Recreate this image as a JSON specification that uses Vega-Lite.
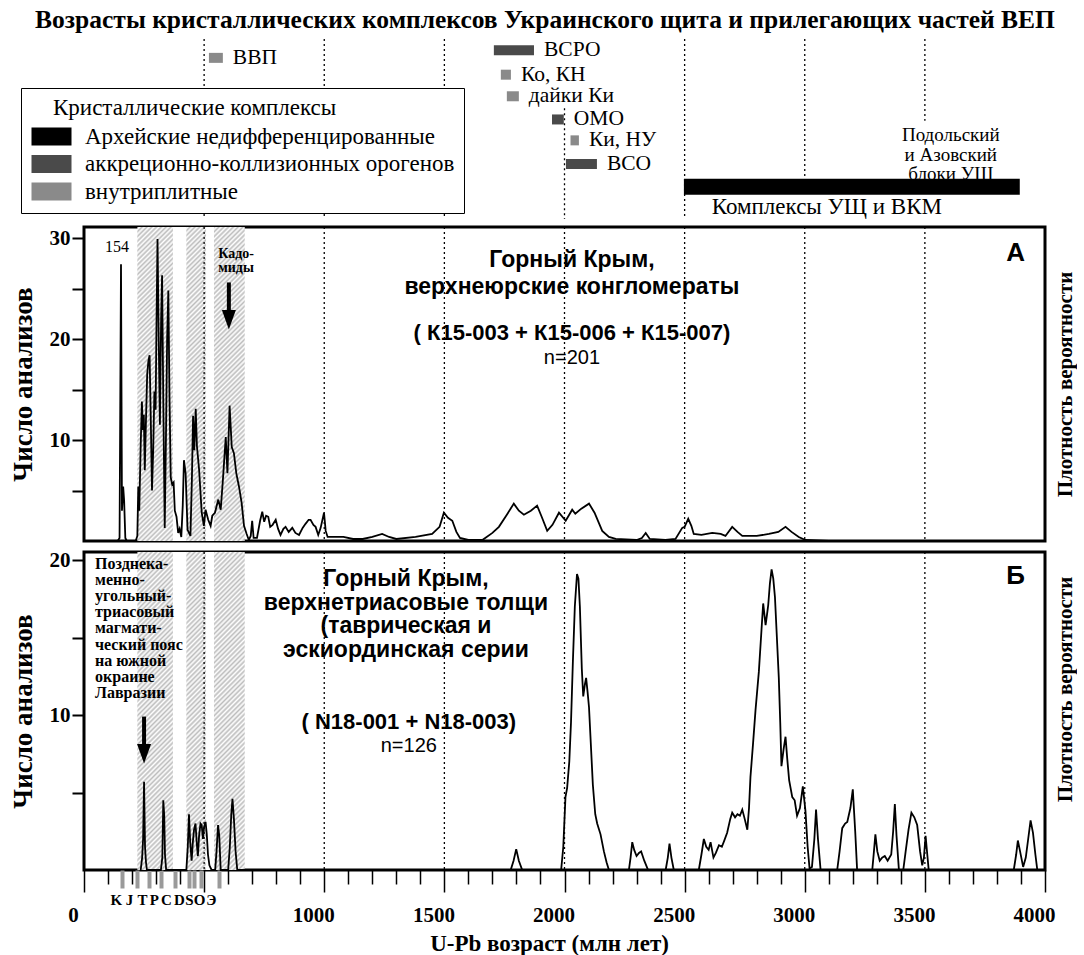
{
  "$schema": "https://vega.github.io/schema/vega-lite/v6.json",
  "background": "white",
  "padding": {"left": 7, "top": 7, "right": 0, "bottom": 0},
  "title": {
    "text": "Возрасты кристаллических комплексов Украинского щита и прилегающих частей ВЕП",
    "font": "Liberation Serif", "fontSize": 25.5, "fontWeight": "bold", "color": "black",
    "anchor": "middle", "offset": 1, "dx": 3
  },
  "config": {
    "view": {"stroke": "black", "strokeWidth": 3},
    "axis": {"grid": false, "domain": false, "labelColor": "black", "tickColor": "black", "titleColor": "black"}
  },
  "params": [
    {
      "name": "hatch",
      "value": {
        "gradient": "linear", "x1": 0, "y1": 0, "x2": 0.4602, "y2": 1.3583,
        "stops": [
          {"offset":0,"color":"#bdbdbd"},{"offset":0.005,"color":"#fff"},{"offset":0.01,"color":"#bdbdbd"},{"offset":0.015,"color":"#fff"},
          {"offset":0.02,"color":"#bdbdbd"},{"offset":0.025,"color":"#fff"},{"offset":0.03,"color":"#bdbdbd"},{"offset":0.035,"color":"#fff"},
          {"offset":0.04,"color":"#bdbdbd"},{"offset":0.045,"color":"#fff"},{"offset":0.05,"color":"#bdbdbd"},{"offset":0.055,"color":"#fff"},
          {"offset":0.06,"color":"#bdbdbd"},{"offset":0.065,"color":"#fff"},{"offset":0.07,"color":"#bdbdbd"},{"offset":0.075,"color":"#fff"},
          {"offset":0.08,"color":"#bdbdbd"},{"offset":0.085,"color":"#fff"},{"offset":0.09,"color":"#bdbdbd"},{"offset":0.095,"color":"#fff"},
          {"offset":0.1,"color":"#bdbdbd"},{"offset":0.105,"color":"#fff"},{"offset":0.11,"color":"#bdbdbd"},{"offset":0.115,"color":"#fff"},
          {"offset":0.12,"color":"#bdbdbd"},{"offset":0.125,"color":"#fff"},{"offset":0.13,"color":"#bdbdbd"},{"offset":0.135,"color":"#fff"},
          {"offset":0.14,"color":"#bdbdbd"},{"offset":0.145,"color":"#fff"},{"offset":0.15,"color":"#bdbdbd"},{"offset":0.155,"color":"#fff"},
          {"offset":0.16,"color":"#bdbdbd"},{"offset":0.165,"color":"#fff"},{"offset":0.17,"color":"#bdbdbd"},{"offset":0.175,"color":"#fff"},
          {"offset":0.18,"color":"#bdbdbd"},{"offset":0.185,"color":"#fff"},{"offset":0.19,"color":"#bdbdbd"},{"offset":0.195,"color":"#fff"},
          {"offset":0.2,"color":"#bdbdbd"},{"offset":0.205,"color":"#fff"},{"offset":0.21,"color":"#bdbdbd"},{"offset":0.215,"color":"#fff"},
          {"offset":0.22,"color":"#bdbdbd"},{"offset":0.225,"color":"#fff"},{"offset":0.23,"color":"#bdbdbd"},{"offset":0.235,"color":"#fff"},
          {"offset":0.24,"color":"#bdbdbd"},{"offset":0.245,"color":"#fff"},{"offset":0.25,"color":"#bdbdbd"},{"offset":0.255,"color":"#fff"},
          {"offset":0.26,"color":"#bdbdbd"},{"offset":0.265,"color":"#fff"},{"offset":0.27,"color":"#bdbdbd"},{"offset":0.275,"color":"#fff"},
          {"offset":0.28,"color":"#bdbdbd"},{"offset":0.285,"color":"#fff"},{"offset":0.29,"color":"#bdbdbd"},{"offset":0.295,"color":"#fff"},
          {"offset":0.3,"color":"#bdbdbd"},{"offset":0.305,"color":"#fff"},{"offset":0.31,"color":"#bdbdbd"},{"offset":0.315,"color":"#fff"},
          {"offset":0.32,"color":"#bdbdbd"},{"offset":0.325,"color":"#fff"},{"offset":0.33,"color":"#bdbdbd"},{"offset":0.335,"color":"#fff"},
          {"offset":0.34,"color":"#bdbdbd"},{"offset":0.345,"color":"#fff"},{"offset":0.35,"color":"#bdbdbd"},{"offset":0.355,"color":"#fff"},
          {"offset":0.36,"color":"#bdbdbd"},{"offset":0.365,"color":"#fff"},{"offset":0.37,"color":"#bdbdbd"},{"offset":0.375,"color":"#fff"},
          {"offset":0.38,"color":"#bdbdbd"},{"offset":0.385,"color":"#fff"},{"offset":0.39,"color":"#bdbdbd"},{"offset":0.395,"color":"#fff"},
          {"offset":0.4,"color":"#bdbdbd"},{"offset":0.405,"color":"#fff"},{"offset":0.41,"color":"#bdbdbd"},{"offset":0.415,"color":"#fff"},
          {"offset":0.42,"color":"#bdbdbd"},{"offset":0.425,"color":"#fff"},{"offset":0.43,"color":"#bdbdbd"},{"offset":0.435,"color":"#fff"},
          {"offset":0.44,"color":"#bdbdbd"},{"offset":0.445,"color":"#fff"},{"offset":0.45,"color":"#bdbdbd"},{"offset":0.455,"color":"#fff"},
          {"offset":0.46,"color":"#bdbdbd"},{"offset":0.465,"color":"#fff"},{"offset":0.47,"color":"#bdbdbd"},{"offset":0.475,"color":"#fff"},
          {"offset":0.48,"color":"#bdbdbd"},{"offset":0.485,"color":"#fff"},{"offset":0.49,"color":"#bdbdbd"},{"offset":0.495,"color":"#fff"},
          {"offset":0.5,"color":"#bdbdbd"},{"offset":0.505,"color":"#fff"},{"offset":0.51,"color":"#bdbdbd"},{"offset":0.515,"color":"#fff"},
          {"offset":0.52,"color":"#bdbdbd"},{"offset":0.525,"color":"#fff"},{"offset":0.53,"color":"#bdbdbd"},{"offset":0.535,"color":"#fff"},
          {"offset":0.54,"color":"#bdbdbd"},{"offset":0.545,"color":"#fff"},{"offset":0.55,"color":"#bdbdbd"},{"offset":0.555,"color":"#fff"},
          {"offset":0.56,"color":"#bdbdbd"},{"offset":0.565,"color":"#fff"},{"offset":0.57,"color":"#bdbdbd"},{"offset":0.575,"color":"#fff"},
          {"offset":0.58,"color":"#bdbdbd"},{"offset":0.585,"color":"#fff"},{"offset":0.59,"color":"#bdbdbd"},{"offset":0.595,"color":"#fff"},
          {"offset":0.6,"color":"#bdbdbd"},{"offset":0.605,"color":"#fff"},{"offset":0.61,"color":"#bdbdbd"},{"offset":0.615,"color":"#fff"},
          {"offset":0.62,"color":"#bdbdbd"},{"offset":0.625,"color":"#fff"},{"offset":0.63,"color":"#bdbdbd"},{"offset":0.635,"color":"#fff"},
          {"offset":0.64,"color":"#bdbdbd"},{"offset":0.645,"color":"#fff"},{"offset":0.65,"color":"#bdbdbd"},{"offset":0.655,"color":"#fff"},
          {"offset":0.66,"color":"#bdbdbd"},{"offset":0.665,"color":"#fff"},{"offset":0.67,"color":"#bdbdbd"},{"offset":0.675,"color":"#fff"},
          {"offset":0.68,"color":"#bdbdbd"},{"offset":0.685,"color":"#fff"},{"offset":0.69,"color":"#bdbdbd"},{"offset":0.695,"color":"#fff"},
          {"offset":0.7,"color":"#bdbdbd"},{"offset":0.705,"color":"#fff"},{"offset":0.71,"color":"#bdbdbd"},{"offset":0.715,"color":"#fff"},
          {"offset":0.72,"color":"#bdbdbd"},{"offset":0.725,"color":"#fff"},{"offset":0.73,"color":"#bdbdbd"},{"offset":0.735,"color":"#fff"},
          {"offset":0.74,"color":"#bdbdbd"},{"offset":0.745,"color":"#fff"},{"offset":0.75,"color":"#bdbdbd"},{"offset":0.755,"color":"#fff"},
          {"offset":0.76,"color":"#bdbdbd"},{"offset":0.765,"color":"#fff"},{"offset":0.77,"color":"#bdbdbd"},{"offset":0.775,"color":"#fff"},
          {"offset":0.78,"color":"#bdbdbd"},{"offset":0.785,"color":"#fff"},{"offset":0.79,"color":"#bdbdbd"},{"offset":0.795,"color":"#fff"},
          {"offset":0.8,"color":"#bdbdbd"},{"offset":0.805,"color":"#fff"},{"offset":0.81,"color":"#bdbdbd"},{"offset":0.815,"color":"#fff"},
          {"offset":0.82,"color":"#bdbdbd"},{"offset":0.825,"color":"#fff"},{"offset":0.83,"color":"#bdbdbd"},{"offset":0.835,"color":"#fff"},
          {"offset":0.84,"color":"#bdbdbd"},{"offset":0.845,"color":"#fff"},{"offset":0.85,"color":"#bdbdbd"},{"offset":0.855,"color":"#fff"},
          {"offset":0.86,"color":"#bdbdbd"},{"offset":0.865,"color":"#fff"},{"offset":0.87,"color":"#bdbdbd"},{"offset":0.875,"color":"#fff"},
          {"offset":0.88,"color":"#bdbdbd"},{"offset":0.885,"color":"#fff"},{"offset":0.89,"color":"#bdbdbd"},{"offset":0.895,"color":"#fff"},
          {"offset":0.9,"color":"#bdbdbd"}
        ]
      }
    }
  ],
  "datasets": {
    "hatchZone": [{"s": 222, "e": 669}],
    "hatchGaps": [{"s": 370, "e": 426}, {"s": 508, "e": 541}],
    "gridPanel": [{"g": 500}, {"g": 1000}, {"g": 1500}, {"g": 2000}, {"g": 2500}, {"g": 3000}, {"g": 3500}],
    "gridTop": [
      {"g": 500, "from": 0.5, "to": 8.42}, {"g": 1000, "from": 0.5, "to": 8.42}, {"g": 1500, "from": 0.5, "to": 8.42},
      {"g": 2000, "from": 3.55, "to": 8.42}, {"g": 2500, "from": 0.5, "to": 8.42}, {"g": 3000, "from": 0.5, "to": 6.67},
      {"g": 3500, "from": 0.5, "to": 4.1}
    ],
    "complexes": [
      {"name": "ВВП", "s": 520, "e": 578, "row": 1.33, "kind": "внутриплитные"},
      {"name": "ВСРО", "s": 1706, "e": 1873, "row": 1.0, "kind": "аккреционно-коллизионных орогенов"},
      {"name": "Ко, КН", "s": 1735, "e": 1777, "row": 2.07, "kind": "внутриплитные"},
      {"name": "дайки Ки", "s": 1760, "e": 1810, "row": 3.02, "kind": "внутриплитные"},
      {"name": "ОМО", "s": 1948, "e": 1997, "row": 4.04, "kind": "аккреционно-коллизионных орогенов"},
      {"name": "Ки, НУ", "s": 2025, "e": 2060, "row": 4.96, "kind": "внутриплитные"},
      {"name": "ВСО", "s": 2006, "e": 2135, "row": 6.0, "kind": "аккреционно-коллизионных орогенов"}
    ],
    "archean": [
      {"name": "Комплексы УЩ и ВКМ", "s": 2497, "e": 3895, "row": 7.0, "kind": "Архейские недифференцированные"}
    ],
    "curveA": [
      {"a":140,"v":0},{"a":148,"v":0.3},{"a":154,"v":27.4},{"a":158,"v":3.0},{"a":163,"v":5.4},{"a":167,"v":4.0},{"a":172,"v":0.3},{"a":178,"v":0},
      {"a":215,"v":0},{"a":222,"v":0.5},{"a":226,"v":5.4},{"a":230,"v":3.0},{"a":236,"v":9.5},{"a":241,"v":13.8},{"a":245,"v":11.0},{"a":249,"v":12.5},
      {"a":253,"v":7.0},{"a":258,"v":12.0},{"a":263,"v":16.5},{"a":268,"v":17.8},{"a":273,"v":18.4},{"a":278,"v":12.0},{"a":283,"v":5.0},{"a":288,"v":9.0},
      {"a":293,"v":14.8},{"a":298,"v":13.0},{"a":302,"v":22.0},{"a":306,"v":29.9},{"a":311,"v":20.0},{"a":316,"v":11.5},{"a":321,"v":22.0},{"a":325,"v":26.3},
      {"a":330,"v":14.0},{"a":336,"v":1.3},{"a":341,"v":10.0},{"a":346,"v":20.0},{"a":351,"v":24.8},{"a":356,"v":14.0},{"a":361,"v":6.3},{"a":367,"v":5.6},
      {"a":373,"v":5.8},{"a":378,"v":3.0},{"a":385,"v":2.4},{"a":392,"v":0.8},{"a":398,"v":1.2},{"a":405,"v":0.4},{"a":411,"v":3.5},{"a":416,"v":8.0},
      {"a":423,"v":6.7},{"a":431,"v":1.1},{"a":443,"v":0.5},{"a":449,"v":6.0},{"a":454,"v":12.4},{"a":459,"v":9.0},{"a":465,"v":13.1},{"a":470,"v":9.4},
      {"a":479,"v":7.1},{"a":490,"v":2.8},{"a":499,"v":1.5},{"a":506,"v":3.1},{"a":517,"v":2.1},{"a":527,"v":1.5},{"a":534,"v":2.5},{"a":545,"v":2.8},
      {"a":559,"v":4.1},{"a":569,"v":3.1},{"a":578,"v":6.0},{"a":590,"v":10.3},{"a":597,"v":6.7},{"a":606,"v":13.4},{"a":615,"v":9.3},{"a":624,"v":8.7},
      {"a":634,"v":6.7},{"a":645,"v":5.4},{"a":656,"v":3.8},{"a":666,"v":1.5},{"a":677,"v":0.7},{"a":686,"v":0.1},{"a":694,"v":0.5},{"a":700,"v":2.0},
      {"a":706,"v":0.3},{"a":720,"v":0.3},{"a":733,"v":2.0},{"a":742,"v":2.9},{"a":750,"v":1.9},{"a":758,"v":2.5},{"a":767,"v":2.4},{"a":775,"v":1.4},
      {"a":785,"v":1.6},{"a":798,"v":2.1},{"a":808,"v":1.2},{"a":818,"v":0.6},{"a":830,"v":1.2},{"a":839,"v":1.4},{"a":852,"v":0.9},{"a":867,"v":1.3},
      {"a":880,"v":0.8},{"a":895,"v":0.6},{"a":910,"v":1.3},{"a":922,"v":1.7},{"a":935,"v":2.1},{"a":943,"v":2.1},{"a":955,"v":1.6},{"a":964,"v":1.4},
      {"a":975,"v":0.6},{"a":985,"v":1.3},{"a":999,"v":2.8},{"a":1006,"v":1.0},{"a":1014,"v":0.4},{"a":1040,"v":0.4},{"a":1080,"v":0.4},{"a":1120,"v":0.2},
      {"a":1160,"v":0.2},{"a":1200,"v":0.4},{"a":1241,"v":0.7},{"a":1270,"v":0.4},{"a":1300,"v":0.2},{"a":1380,"v":0.4},{"a":1449,"v":0.7},{"a":1480,"v":1.4},
      {"a":1498,"v":2.8},{"a":1515,"v":2.3},{"a":1533,"v":2.0},{"a":1550,"v":0.9},{"a":1565,"v":0.3},{"a":1600,"v":0.1},{"a":1658,"v":0.1},{"a":1700,"v":0.8},
      {"a":1727,"v":1.4},{"a":1760,"v":2.6},{"a":1789,"v":3.7},{"a":1810,"v":3.0},{"a":1831,"v":2.6},{"a":1860,"v":3.0},{"a":1886,"v":3.5},{"a":1905,"v":2.4},
      {"a":1928,"v":1.0},{"a":1950,"v":1.6},{"a":1977,"v":2.8},{"a":2005,"v":2.0},{"a":2032,"v":3.1},{"a":2045,"v":2.7},{"a":2070,"v":3.2},{"a":2102,"v":3.7},
      {"a":2125,"v":2.8},{"a":2157,"v":1.0},{"a":2185,"v":0.4},{"a":2213,"v":0.2},{"a":2300,"v":0.1},{"a":2322,"v":0.3},{"a":2338,"v":0.8},{"a":2355,"v":0.2},
      {"a":2420,"v":0.1},{"a":2462,"v":0.2},{"a":2490,"v":1.3},{"a":2500,"v":1.4},{"a":2515,"v":2.2},{"a":2528,"v":1.5},{"a":2538,"v":0.7},{"a":2570,"v":0.6},
      {"a":2615,"v":0.8},{"a":2650,"v":0.7},{"a":2670,"v":0.5},{"a":2698,"v":1.4},{"a":2720,"v":0.9},{"a":2740,"v":0.5},{"a":2800,"v":0.5},{"a":2851,"v":0.7},
      {"a":2890,"v":0.9},{"a":2920,"v":1.4},{"a":2945,"v":0.9},{"a":2975,"v":0.4},{"a":3003,"v":0.1},{"a":3100,"v":0}
    ],
    "curveB": [
      {"a":236,"v":0},{"a":242,"v":0.8},{"a":246,"v":2.0},{"a":250,"v":5.7},{"a":254,"v":1.5},{"a":258,"v":0.5},{"a":262,"v":0},
      {"a":320,"v":0},{"a":326,"v":0.8},{"a":330,"v":4.5},{"a":334,"v":3.5},{"a":337,"v":1.0},{"a":342,"v":0},
      {"a":426,"v":0},{"a":432,"v":1.5},{"a":437,"v":3.6},{"a":442,"v":1.8},{"a":448,"v":0.6},{"a":453,"v":1.8},{"a":458,"v":2.6},{"a":464,"v":3.0},
      {"a":470,"v":1.6},{"a":474,"v":0.9},{"a":479,"v":2.2},{"a":485,"v":3.0},{"a":490,"v":2.9},{"a":495,"v":2.0},{"a":500,"v":2.8},{"a":506,"v":3.1},
      {"a":511,"v":2.3},{"a":516,"v":1.0},{"a":522,"v":0.3},{"a":531,"v":0},
      {"a":546,"v":0},{"a":552,"v":1.3},{"a":558,"v":2.9},{"a":563,"v":2.2},{"a":569,"v":0},
      {"a":600,"v":0},{"a":607,"v":1.5},{"a":613,"v":3.6},{"a":618,"v":4.6},{"a":624,"v":3.3},{"a":631,"v":1.2},{"a":638,"v":0},
      {"a":1776,"v":0},{"a":1788,"v":0.6},{"a":1799,"v":1.35},{"a":1810,"v":0.6},{"a":1824,"v":0},
      {"a":1986,"v":0},{"a":1995,"v":1.5},{"a":2004,"v":4.7},{"a":2011,"v":5.3},{"a":2020,"v":7.0},{"a":2027,"v":9.5},{"a":2035,"v":13.5},{"a":2043,"v":17.0},
      {"a":2052,"v":19.1},{"a":2058,"v":18.8},{"a":2064,"v":17.0},{"a":2072,"v":13.0},{"a":2078,"v":11.2},{"a":2085,"v":12.0},{"a":2090,"v":12.4},{"a":2096,"v":11.5},
      {"a":2102,"v":10.5},{"a":2110,"v":8.0},{"a":2118,"v":5.5},{"a":2128,"v":3.6},{"a":2136,"v":3.0},{"a":2150,"v":2.3},{"a":2164,"v":1.2},{"a":2175,"v":0.5},{"a":2185,"v":0},
      {"a":2268,"v":0},{"a":2275,"v":0.8},{"a":2282,"v":1.8},{"a":2290,"v":1.3},{"a":2300,"v":0.9},{"a":2310,"v":1.1},{"a":2319,"v":1.2},{"a":2332,"v":0.6},{"a":2348,"v":0},
      {"a":2421,"v":0},{"a":2430,"v":0.8},{"a":2437,"v":1.7},{"a":2445,"v":0.8},{"a":2455,"v":0},
      {"a":2559,"v":0},{"a":2570,"v":1.0},{"a":2580,"v":2.0},{"a":2590,"v":1.5},{"a":2600,"v":1.3},{"a":2608,"v":1.8},{"a":2620,"v":0.8},{"a":2630,"v":1.1},
      {"a":2643,"v":1.6},{"a":2655,"v":1.5},{"a":2665,"v":1.9},{"a":2677,"v":2.4},{"a":2690,"v":3.3},{"a":2698,"v":3.7},{"a":2710,"v":3.4},{"a":2720,"v":3.6},
      {"a":2730,"v":3.5},{"a":2740,"v":3.9},{"a":2750,"v":3.3},{"a":2761,"v":2.6},{"a":2768,"v":4.0},{"a":2774,"v":6.0},{"a":2785,"v":8.2},{"a":2795,"v":10.3},
      {"a":2809,"v":12.8},{"a":2820,"v":15.5},{"a":2827,"v":17.2},{"a":2837,"v":15.8},{"a":2843,"v":16.5},{"a":2848,"v":17.1},{"a":2855,"v":18.5},{"a":2862,"v":19.4},
      {"a":2869,"v":18.8},{"a":2876,"v":17.6},{"a":2884,"v":15.0},{"a":2892,"v":12.4},{"a":2898,"v":9.5},{"a":2903,"v":6.7},{"a":2912,"v":7.8},{"a":2920,"v":8.6},
      {"a":2927,"v":7.2},{"a":2935,"v":5.8},{"a":2948,"v":4.7},{"a":2958,"v":4.5},{"a":2968,"v":3.5},{"a":2980,"v":4.0},{"a":2992,"v":5.4},{"a":3003,"v":3.8},
      {"a":3012,"v":1.5},{"a":3020,"v":0.1},{"a":3030,"v":0.2},{"a":3040,"v":2.0},{"a":3047,"v":3.9},{"a":3055,"v":2.0},{"a":3066,"v":0},
      {"a":3135,"v":0},{"a":3145,"v":1.2},{"a":3156,"v":2.7},{"a":3168,"v":3.0},{"a":3177,"v":3.1},{"a":3190,"v":4.0},{"a":3200,"v":5.2},{"a":3210,"v":2.5},{"a":3218,"v":0},
      {"a":3281,"v":0},{"a":3288,"v":1.2},{"a":3294,"v":2.3},{"a":3302,"v":1.2},{"a":3312,"v":0.6},{"a":3322,"v":0.8},{"a":3333,"v":0.9},{"a":3345,"v":0.6},
      {"a":3360,"v":1.0},{"a":3368,"v":2.5},{"a":3375,"v":4.25},{"a":3382,"v":2.2},{"a":3392,"v":0},
      {"a":3410,"v":0},{"a":3420,"v":1.2},{"a":3432,"v":2.6},{"a":3444,"v":3.7},{"a":3456,"v":3.4},{"a":3468,"v":2.9},{"a":3480,"v":1.2},{"a":3489,"v":0.3},
      {"a":3496,"v":0.8},{"a":3503,"v":2.2},{"a":3510,"v":1.0},{"a":3516,"v":0},
      {"a":3870,"v":0},{"a":3880,"v":1.0},{"a":3887,"v":1.9},{"a":3895,"v":1.3},{"a":3909,"v":0.2},{"a":3920,"v":0.8},{"a":3930,"v":2.0},{"a":3940,"v":3.2},
      {"a":3950,"v":2.4},{"a":3960,"v":1.0},{"a":3968,"v":0},{"a":4000,"v":0}
    ]
  },
  "spacing": 0,
  "resolve": {"legend": {"fill": "independent"}, "scale": {"fill": "independent"}},
  "vconcat": [
    {
      "width": 961,
      "height": 190,
      "view": {"stroke": null},
      "layer": [
        {
          "data": {"name": "gridTop"},
          "mark": {"type": "rule", "strokeDash": [2, 3], "strokeWidth": 1.3, "color": "black"},
          "encoding": {
            "x": {"field": "g", "type": "quantitative", "scale": {"domain": [0, 4000], "nice": false, "zero": false}, "axis": null},
            "y": {"field": "from", "type": "quantitative", "scale": {"domain": [0.5, 8.42], "reverse": true, "nice": false, "zero": false}, "axis": null},
            "y2": {"field": "to"}
          }
        },
        {
          "data": {"name": "complexes"},
          "mark": {"type": "bar", "stroke": null},
          "encoding": {
            "x": {"field": "s", "type": "quantitative", "scale": {"domain": [0, 4000], "nice": false, "zero": false}, "axis": null},
            "x2": {"field": "e"},
            "y": {"field": "row", "type": "quantitative", "scale": {"domain": [0.5, 8.42], "reverse": true, "nice": false, "zero": false}, "axis": null},
            "size": {"value": 10},
            "fill": {
              "field": "kind", "type": "nominal",
              "scale": {"domain": ["Архейские недифференцированные", "аккреционно-коллизионных орогенов", "внутриплитные"], "range": ["#000000", "#4a4a4a", "#8a8a8a"]},
              "legend": {
                "orient": "none", "legendX": -63, "legendY": 54,
                "title": "\u200b\u00a0\u00a0\u00a0\u00a0Кристаллические комплексы",
                "titleFont": "Liberation Serif", "titleFontSize": 23, "titleFontWeight": "normal", "titleColor": "black", "titlePadding": 5, "titleLimit": 700,
                "labelFont": "Liberation Serif", "labelFontSize": 23, "labelColor": "black", "labelLimit": 700, "labelOffset": 32,
                "symbolType": "M-1,-0.9H3V0.9H-1Z", "symbolSize": 400, "symbolStrokeWidth": 0, "symbolOpacity": 1,
                "rowPadding": 3.5, "padding": 9, "strokeColor": "black", "fillColor": "white"
              }
            }
          }
        },
        {
          "data": {"name": "archean"},
          "mark": {"type": "bar", "stroke": null},
          "encoding": {
            "x": {"field": "s", "type": "quantitative", "scale": {"domain": [0, 4000], "nice": false, "zero": false}, "axis": null},
            "x2": {"field": "e"},
            "y": {"field": "row", "type": "quantitative", "scale": {"domain": [0.5, 8.42], "reverse": true, "nice": false, "zero": false}, "axis": null},
            "size": {"value": 16},
            "fill": {"field": "kind", "type": "nominal"}
          }
        },
        {
          "data": {"name": "complexes"},
          "mark": {"type": "text", "align": "left", "baseline": "middle", "dx": 10, "font": "Liberation Serif", "fontSize": 21.5, "color": "black"},
          "encoding": {
            "x": {"field": "e", "type": "quantitative", "scale": {"domain": [0, 4000], "nice": false, "zero": false}, "axis": null},
            "y": {"field": "row", "type": "quantitative", "scale": {"domain": [0.5, 8.42], "reverse": true, "nice": false, "zero": false}, "axis": null},
            "text": {"field": "name"}
          }
        },
        {
          "data": {"name": "archean"},
          "mark": {"type": "text", "align": "center", "baseline": "middle", "font": "Liberation Serif", "fontSize": 23, "color": "black"},
          "encoding": {
            "x": {"datum": 3092, "type": "quantitative", "scale": {"domain": [0, 4000], "nice": false, "zero": false}, "axis": null},
            "y": {"datum": 7.87, "type": "quantitative", "scale": {"domain": [0.5, 8.42], "reverse": true, "nice": false, "zero": false}, "axis": null},
            "text": {"field": "name"}
          }
        },
        {
          "data": {"values": [{}]},
          "mark": {"type": "text", "align": "center", "baseline": "alphabetic", "lineHeight": 19.5, "font": "Liberation Serif", "fontSize": 19, "color": "black"},
          "encoding": {
            "x": {"datum": 3608, "type": "quantitative", "scale": {"domain": [0, 4000], "nice": false, "zero": false}, "axis": null},
            "y": {"datum": 5.0, "type": "quantitative", "scale": {"domain": [0.5, 8.42], "reverse": true, "nice": false, "zero": false}, "axis": null},
            "text": {"value": ["Подольский", "и Азовский", "блоки УЩ"]}
          }
        }
      ]
    },
    {
      "width": 961,
      "height": 314,
      "resolve": {"axis": {"x": "independent", "y": "independent"}},
      "layer": [
        {
          "data": {"name": "hatchZone"},
          "mark": {"type": "rect", "fill": {"expr": "hatch"}, "stroke": null},
          "encoding": {
            "x": {"field": "s", "type": "quantitative", "scale": {"domain": [0, 4000], "nice": false, "zero": false}, "axis": null},
            "x2": {"field": "e"},
            "y": {"datum": 0, "type": "quantitative", "scale": {"domain": [0, 31.09], "nice": false, "zero": false}, "axis": null},
            "y2": {"datum": 31.09}
          }
        },
        {
          "data": {"name": "hatchGaps"},
          "mark": {"type": "rect", "fill": "white", "stroke": null},
          "encoding": {
            "x": {"field": "s", "type": "quantitative", "scale": {"domain": [0, 4000], "nice": false, "zero": false}, "axis": null},
            "x2": {"field": "e"},
            "y": {"datum": 0, "type": "quantitative", "scale": {"domain": [0, 31.09], "nice": false, "zero": false}, "axis": null},
            "y2": {"datum": 31.09}
          }
        },
        {
          "data": {"name": "gridPanel"},
          "mark": {"type": "rule", "strokeDash": [2, 3], "strokeWidth": 1.3, "color": "black"},
          "encoding": {
            "x": {"field": "g", "type": "quantitative", "scale": {"domain": [0, 4000], "nice": false, "zero": false}, "axis": null}
          }
        },
        {
          "data": {"name": "curveA"},
          "mark": {"type": "line", "color": "black", "strokeWidth": 1.8},
          "encoding": {
            "x": {"field": "a", "type": "quantitative", "scale": {"domain": [0, 4000], "nice": false, "zero": false}, "axis": null},
            "y": {
              "field": "v", "type": "quantitative", "scale": {"domain": [0, 31.09], "nice": false, "zero": false},
              "axis": {
                "orient": "left", "values": [5, 10, 15, 20, 25, 30], "tickSize": 12, "tickWidth": 2, "domain": false,
                "labelExpr": "datum.value % 10 == 0 ? datum.label : ''",
                "labelFont": "Liberation Serif", "labelFontSize": 21, "labelFontWeight": "bold", "labelPadding": 2,
                "title": "Число анализов", "titleFont": "Liberation Serif", "titleFontSize": 27, "titleFontWeight": "bold", "titlePadding": 12
              }
            }
          }
        },
        {
          "data": {"values": [{}]},
          "mark": {"type": "text", "align": "center", "baseline": "alphabetic", "lineHeight": 27, "font": "Liberation Sans", "fontSize": 23, "fontWeight": "bold", "color": "black"},
          "encoding": {
            "x": {"datum": 2031, "type": "quantitative", "scale": {"domain": [0, 4000], "nice": false, "zero": false}, "axis": null},
            "y": {"datum": 27.1, "type": "quantitative", "scale": {"domain": [0, 31.09], "nice": false, "zero": false}, "axis": null},
            "text": {"value": ["Горный Крым,", "верхнеюрские конгломераты"]}
          }
        },
        {
          "data": {"values": [{}]},
          "mark": {"type": "text", "align": "center", "baseline": "alphabetic", "font": "Liberation Sans", "fontSize": 22, "fontWeight": "bold", "color": "black"},
          "encoding": {
            "x": {"datum": 2031, "type": "quantitative", "scale": {"domain": [0, 4000], "nice": false, "zero": false}, "axis": null},
            "y": {"datum": 19.9, "type": "quantitative", "scale": {"domain": [0, 31.09], "nice": false, "zero": false}, "axis": null},
            "text": {"value": "( К15-003 + К15-006 + К15-007)"}
          }
        },
        {
          "data": {"values": [{}]},
          "mark": {"type": "text", "align": "center", "baseline": "alphabetic", "font": "Liberation Sans", "fontSize": 20, "color": "black"},
          "encoding": {
            "x": {"datum": 2031, "type": "quantitative", "scale": {"domain": [0, 4000], "nice": false, "zero": false}, "axis": null},
            "y": {"datum": 17.55, "type": "quantitative", "scale": {"domain": [0, 31.09], "nice": false, "zero": false}, "axis": null},
            "text": {"value": "n=201"}
          }
        },
        {
          "data": {"values": [{}]},
          "mark": {"type": "text", "align": "center", "baseline": "alphabetic", "font": "Liberation Sans", "fontSize": 26, "fontWeight": "bold", "color": "black"},
          "encoding": {
            "x": {"datum": 3878, "type": "quantitative", "scale": {"domain": [0, 4000], "nice": false, "zero": false}, "axis": null},
            "y": {"datum": 27.7, "type": "quantitative", "scale": {"domain": [0, 31.09], "nice": false, "zero": false}, "axis": null},
            "text": {"value": "А"}
          }
        },
        {
          "data": {"values": [{}]},
          "mark": {"type": "text", "align": "center", "baseline": "alphabetic", "font": "Liberation Serif", "fontSize": 16, "color": "black"},
          "encoding": {
            "x": {"datum": 137, "type": "quantitative", "scale": {"domain": [0, 4000], "nice": false, "zero": false}, "axis": null},
            "y": {"datum": 28.6, "type": "quantitative", "scale": {"domain": [0, 31.09], "nice": false, "zero": false}, "axis": null},
            "text": {"value": "154"}
          }
        },
        {
          "data": {"values": [{}]},
          "mark": {"type": "text", "align": "center", "baseline": "alphabetic", "lineHeight": 14, "font": "Liberation Serif", "fontSize": 14, "fontWeight": "bold", "color": "black"},
          "encoding": {
            "x": {"datum": 633, "type": "quantitative", "scale": {"domain": [0, 4000], "nice": false, "zero": false}, "axis": null},
            "y": {"datum": 28.0, "type": "quantitative", "scale": {"domain": [0, 31.09], "nice": false, "zero": false}, "axis": null},
            "text": {"value": ["Кадо-", "миды"]}
          }
        },
        {
          "data": {"values": [{}]},
          "mark": {"type": "rule", "color": "black", "strokeWidth": 4},
          "encoding": {
            "x": {"datum": 603, "type": "quantitative", "scale": {"domain": [0, 4000], "nice": false, "zero": false}, "axis": null},
            "y": {"datum": 25.6, "type": "quantitative", "scale": {"domain": [0, 31.09], "nice": false, "zero": false}, "axis": null},
            "y2": {"datum": 22.2}
          }
        },
        {
          "data": {"values": [{}]},
          "mark": {"type": "point", "shape": "M-1,-1.4L1,-1.4L0,1.4Z", "size": 196, "filled": true, "color": "black", "opacity": 1},
          "encoding": {
            "x": {"datum": 603, "type": "quantitative", "scale": {"domain": [0, 4000], "nice": false, "zero": false}, "axis": null},
            "y": {"datum": 21.9, "type": "quantitative", "scale": {"domain": [0, 31.09], "nice": false, "zero": false}, "axis": null}
          }
        },
        {
          "data": {"values": [{}]},
          "mark": {"type": "rule", "opacity": 0},
          "encoding": {
            "y": {
              "datum": 0, "type": "quantitative", "scale": {"domain": [0, 31.09], "nice": false, "zero": false},
              "axis": {
                "orient": "right", "title": "Плотность вероятности", "titleFont": "Liberation Serif", "titleFontSize": 21, "titleFontWeight": "bold",
                "titleAngle": 270, "titlePadding": 30, "labels": false, "ticks": false, "domain": false
              }
            }
          }
        }
      ]
    },
    {
      "width": 961,
      "height": 318,
      "resolve": {"axis": {"x": "independent", "y": "independent"}},
      "layer": [
        {
          "data": {"name": "hatchZone"},
          "mark": {"type": "rect", "fill": {"expr": "hatch"}, "stroke": null},
          "encoding": {
            "x": {
              "field": "s", "type": "quantitative", "scale": {"domain": [0, 4000], "nice": false, "zero": false},
              "axis": {
                "orient": "bottom", "values": [0, 500, 1000, 1500, 2000, 2500, 3000, 3500, 4000], "format": "d",
                "tickSize": 22, "tickWidth": 1.5, "domain": false,
                "labelExpr": "datum.value == 500 ? '' : datum.label", "labelFlush": false, "labelOverlap": false,
                "labelFont": "Liberation Serif", "labelFontSize": 21, "labelFontWeight": "bold", "labelPadding": 12, "labelOffset": -11,
                "title": "U-Pb возраст (млн лет)", "titleFont": "Liberation Serif", "titleFontSize": 23, "titleFontWeight": "bold",
                "titlePadding": 7, "titleX": 465
              }
            },
            "x2": {"field": "e"},
            "y": {"datum": 0, "type": "quantitative", "scale": {"domain": [0, 20.52], "nice": false, "zero": false}, "axis": null},
            "y2": {"datum": 20.52}
          }
        },
        {
          "data": {"name": "hatchGaps"},
          "mark": {"type": "rect", "fill": "white", "stroke": null},
          "encoding": {
            "x": {
              "field": "s", "type": "quantitative", "scale": {"domain": [0, 4000], "nice": false, "zero": false},
              "axis": {
                "orient": "bottom",
                "values": [100, 200, 300, 400, 600, 700, 800, 900, 1100, 1200, 1300, 1400, 1600, 1700, 1800, 1900, 2100, 2200, 2300, 2400, 2600, 2700, 2800, 2900, 3100, 3200, 3300, 3400, 3600, 3700, 3800, 3900],
                "tickSize": 14, "tickWidth": 1.5, "domain": false, "labels": false, "title": null
              }
            },
            "x2": {"field": "e"},
            "y": {"datum": 0, "type": "quantitative", "scale": {"domain": [0, 20.52], "nice": false, "zero": false}, "axis": null},
            "y2": {"datum": 20.52}
          }
        },
        {
          "data": {"name": "gridPanel"},
          "mark": {"type": "rule", "strokeDash": [2, 3], "strokeWidth": 1.3, "color": "black"},
          "encoding": {
            "x": {
              "field": "g", "type": "quantitative", "scale": {"domain": [0, 4000], "nice": false, "zero": false},
              "axis": {
                "orient": "bottom", "values": [160, 221, 270, 319, 380, 437, 458, 485, 561],
                "tickSize": 18, "tickWidth": 4, "tickColor": "#9a9a9a", "domain": false, "labels": false, "title": null
              }
            }
          }
        },
        {
          "data": {"name": "curveB"},
          "mark": {"type": "line", "color": "black", "strokeWidth": 1.8},
          "encoding": {
            "x": {
              "field": "a", "type": "quantitative", "scale": {"domain": [0, 4000], "nice": false, "zero": false},
              "axis": {
                "orient": "bottom", "values": [132, 187, 241, 291, 341, 395, 437, 479, 528],
                "ticks": false, "domain": false, "title": null, "labelOverlap": false, "labelFlush": false,
                "labelExpr": "['K','J','T','P','C','D','S','O','Э'][indexof([132,187,241,291,341,395,437,479,528], datum.value)]",
                "labelFont": "Liberation Serif", "labelFontSize": 15, "labelFontWeight": "bold", "labelPadding": 22
              }
            },
            "y": {
              "field": "v", "type": "quantitative", "scale": {"domain": [0, 20.52], "nice": false, "zero": false},
              "axis": {
                "orient": "left", "values": [5, 10, 15, 20], "tickSize": 12, "tickWidth": 2, "domain": false,
                "labelExpr": "datum.value % 10 == 0 ? datum.label : ''",
                "labelFont": "Liberation Serif", "labelFontSize": 21, "labelFontWeight": "bold", "labelPadding": 2,
                "title": "Число анализов", "titleFont": "Liberation Serif", "titleFontSize": 27, "titleFontWeight": "bold", "titlePadding": 12
              }
            }
          }
        },
        {
          "data": {"values": [{}]},
          "mark": {"type": "text", "align": "center", "baseline": "alphabetic", "lineHeight": 23.5, "font": "Liberation Sans", "fontSize": 23, "fontWeight": "bold", "color": "black"},
          "encoding": {
            "x": {"datum": 1340, "type": "quantitative", "scale": {"domain": [0, 4000], "nice": false, "zero": false}, "axis": null},
            "y": {"datum": 18.3, "type": "quantitative", "scale": {"domain": [0, 20.52], "nice": false, "zero": false}, "axis": null},
            "text": {"value": ["Горный Крым,", "верхнетриасовые толщи", "(таврическая и", "эскиординская серии"]}
          }
        },
        {
          "data": {"values": [{}]},
          "mark": {"type": "text", "align": "center", "baseline": "alphabetic", "font": "Liberation Sans", "fontSize": 22, "fontWeight": "bold", "color": "black"},
          "encoding": {
            "x": {"datum": 1352, "type": "quantitative", "scale": {"domain": [0, 4000], "nice": false, "zero": false}, "axis": null},
            "y": {"datum": 9.1, "type": "quantitative", "scale": {"domain": [0, 20.52], "nice": false, "zero": false}, "axis": null},
            "text": {"value": "( N18-001 + N18-003)"}
          }
        },
        {
          "data": {"values": [{}]},
          "mark": {"type": "text", "align": "center", "baseline": "alphabetic", "font": "Liberation Sans", "fontSize": 20, "color": "black"},
          "encoding": {
            "x": {"datum": 1352, "type": "quantitative", "scale": {"domain": [0, 4000], "nice": false, "zero": false}, "axis": null},
            "y": {"datum": 7.6, "type": "quantitative", "scale": {"domain": [0, 20.52], "nice": false, "zero": false}, "axis": null},
            "text": {"value": "n=126"}
          }
        },
        {
          "data": {"values": [{}]},
          "mark": {"type": "text", "align": "center", "baseline": "alphabetic", "font": "Liberation Sans", "fontSize": 26, "fontWeight": "bold", "color": "black"},
          "encoding": {
            "x": {"datum": 3878, "type": "quantitative", "scale": {"domain": [0, 4000], "nice": false, "zero": false}, "axis": null},
            "y": {"datum": 18.45, "type": "quantitative", "scale": {"domain": [0, 20.52], "nice": false, "zero": false}, "axis": null},
            "text": {"value": "Б"}
          }
        },
        {
          "data": {"values": [{}]},
          "mark": {"type": "text", "align": "left", "baseline": "alphabetic", "lineHeight": 16.2, "font": "Liberation Serif", "fontSize": 16, "fontWeight": "bold", "color": "black"},
          "encoding": {
            "x": {"datum": 46, "type": "quantitative", "scale": {"domain": [0, 4000], "nice": false, "zero": false}, "axis": null},
            "y": {"datum": 19.45, "type": "quantitative", "scale": {"domain": [0, 20.52], "nice": false, "zero": false}, "axis": null},
            "text": {"value": ["Позднека-", "менно-", "угольный-", "триасовый", "магмати-", "ческий пояс", "на южной", "окраине", "Лавразии"]}
          }
        },
        {
          "data": {"values": [{}]},
          "mark": {"type": "rule", "color": "black", "strokeWidth": 4},
          "encoding": {
            "x": {"datum": 250, "type": "quantitative", "scale": {"domain": [0, 4000], "nice": false, "zero": false}, "axis": null},
            "y": {"datum": 9.9, "type": "quantitative", "scale": {"domain": [0, 20.52], "nice": false, "zero": false}, "axis": null},
            "y2": {"datum": 7.7}
          }
        },
        {
          "data": {"values": [{}]},
          "mark": {"type": "point", "shape": "M-1,-1.4L1,-1.4L0,1.4Z", "size": 196, "filled": true, "color": "black", "opacity": 1},
          "encoding": {
            "x": {"datum": 250, "type": "quantitative", "scale": {"domain": [0, 4000], "nice": false, "zero": false}, "axis": null},
            "y": {"datum": 7.5, "type": "quantitative", "scale": {"domain": [0, 20.52], "nice": false, "zero": false}, "axis": null}
          }
        },
        {
          "data": {"values": [{}]},
          "mark": {"type": "rule", "opacity": 0},
          "encoding": {
            "y": {
              "datum": 0, "type": "quantitative", "scale": {"domain": [0, 20.52], "nice": false, "zero": false},
              "axis": {
                "orient": "right", "title": "Плотность вероятности", "titleFont": "Liberation Serif", "titleFontSize": 21, "titleFontWeight": "bold",
                "titleAngle": 270, "titlePadding": 30, "titleY": 137, "labels": false, "ticks": false, "domain": false
              }
            }
          }
        }
      ]
    }
  ]
}
